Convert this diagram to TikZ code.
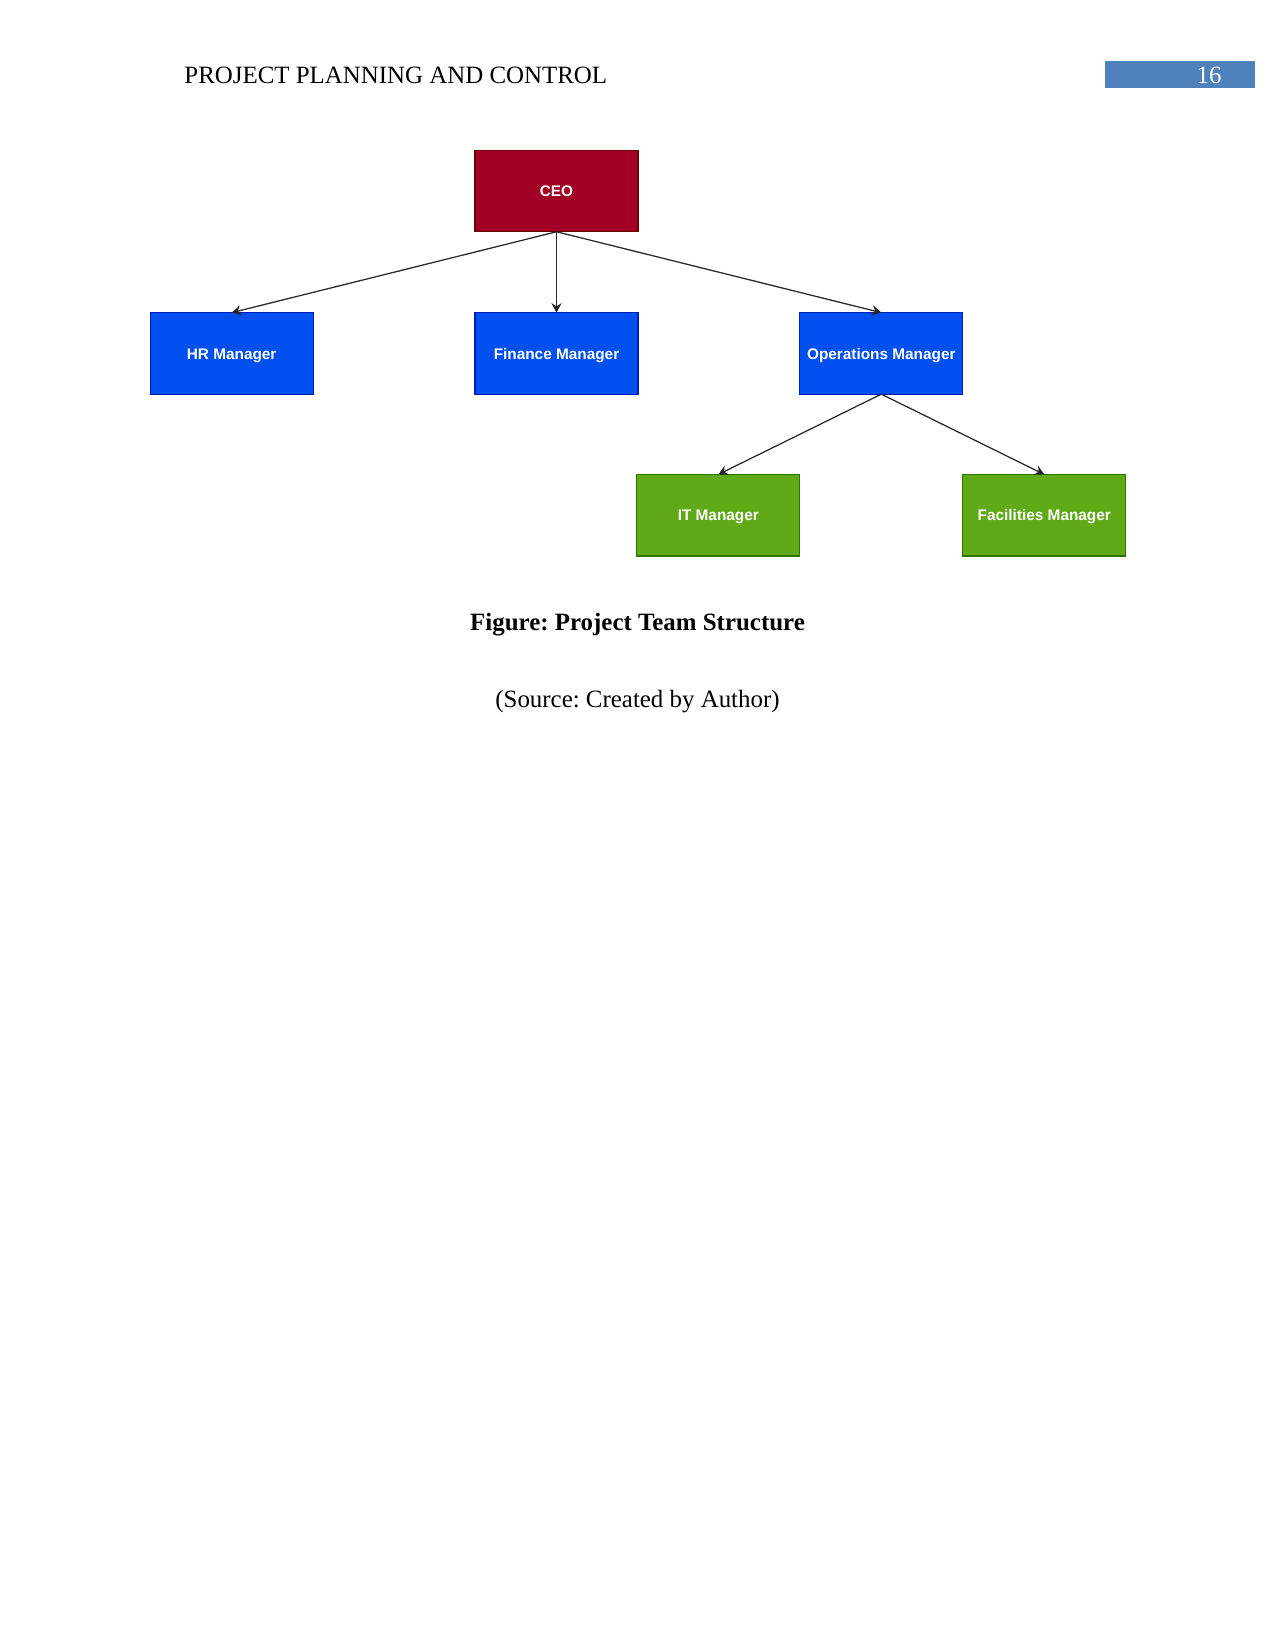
\documentclass[tikz,border=0pt]{standalone}
\usepackage{fontspec}
\setmainfont{Liberation Serif}
\newfontfamily\boxfont{Liberation Sans}
\usepackage{tikz}
\usetikzlibrary{arrows.meta, positioning}
\usepackage{xcolor}
\frenchspacing
\definecolor{cRed}{RGB}{162,0,37}
\definecolor{cRedLine}{RGB}{111,0,0}
\definecolor{cBlue}{RGB}{0,80,239}
\definecolor{cBlueLine}{RGB}{0,29,188}
\definecolor{cGreen}{RGB}{96,169,23}
\definecolor{cGreenLine}{RGB}{45,118,0}
\definecolor{cHead}{RGB}{79,129,189}
\tikzset{
  basebox/.style={rectangle, draw, line width=0.5pt, outer sep=0pt,
                  minimum width=27.6mm, minimum height=13.8mm,
                  text height=1.6ex, text depth=0.4ex,
                  align=center, text=white,
                  font=\boxfont\bfseries\fontsize{7.4}{9}\selectfont},
  ceonode/.style={basebox, fill=cRed, draw=cRedLine},
  mgrnode/.style={basebox, fill=cBlue, draw=cBlueLine},
  subnode/.style={basebox, fill=cGreen, draw=cGreenLine},
  headbar/.style={rectangle, fill=cHead, inner sep=0pt,
                  minimum width=25.4mm, minimum height=4.6mm},
  captext/.style={font=\fontsize{12}{14}\selectfont, inner sep=0pt},
  arrow/.style={-{Stealth[length=1.6mm, width=1.7mm]}, line width=0.6pt,
                color=black!85}
}
\begin{document}
\begin{tikzpicture}[x=0.169333mm, y=-0.169333mm, node distance=13.7mm and 27.4mm]

  \useasboundingbox (0,0) rectangle (1275,1651);

  % ── Header ──
  \node[captext, anchor=base west] (title) at (184,83) {PROJECT PLANNING AND CONTROL};
  \node[headbar] (pagebar) at (1180,74.5) {};
  \node[captext, text=white, anchor=base] (pagenum) at (1209,83) {16};

  % ── Chart ──
  \node[ceonode] (ceo) at (556.5,191) {CEO};

  \node[mgrnode, below=of ceo] (finance) {Finance Manager};
  \node[mgrnode, left=of finance] (hr) {HR Manager};
  \node[mgrnode, right=of finance] (ops) {Operations Manager};

  \node[subnode, below left=13.6mm and 0mm of ops] (it) {IT Manager};
  \node[subnode, below right=13.6mm and 0mm of ops] (facil) {Facilities Manager};

  \draw[arrow] (ceo.south) -- (hr.north);
  \draw[arrow] (ceo.south) -- (finance.north);
  \draw[arrow] (ceo.south) -- (ops.north);
  \draw[arrow] (ops.south) -- (it.north);
  \draw[arrow] (ops.south) -- (facil.north);

  % ── Caption ──
  \node[captext, font=\bfseries\fontsize{12}{14}\selectfont, anchor=base] (caption)
      at (637.5,630) {Figure: Project Team Structure};
  \node[captext, anchor=base] (source) at (637.5,707.5) {(Source: Created by Author)};

\end{tikzpicture}
\end{document}
